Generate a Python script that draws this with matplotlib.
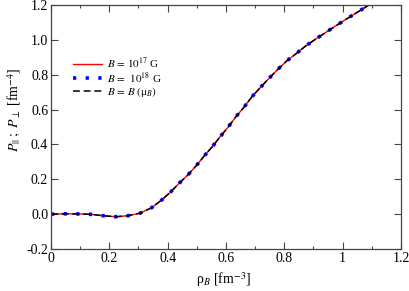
import matplotlib
matplotlib.use("Agg")
import matplotlib.pyplot as plt
from matplotlib.ticker import MultipleLocator, FixedLocator

plt.rcParams['font.family'] = ['Liberation Serif', 'DejaVu Serif']
plt.rcParams['mathtext.fontset'] = 'stix'

# density rho_B [fm^-3] and pressure [fm^-4] (the three curves overlap)
rho = [0, 0.05, 0.1, 0.136, 0.179, 0.222, 0.264, 0.306, 0.345, 0.38, 0.41,
       0.44, 0.471, 0.50, 0.526, 0.553, 0.579, 0.608, 0.634, 0.662, 0.688,
       0.717, 0.745, 0.779, 0.808, 0.842, 0.874, 0.908, 0.945, 0.979, 1.016,
       1.053, 1.09]
p_b17 = [0, 0.002, 0.001, -0.001, -0.009, -0.015, -0.009, 0.006, 0.037,
         0.082, 0.127, 0.178, 0.228, 0.282, 0.335, 0.387, 0.442, 0.501,
         0.559, 0.614, 0.672, 0.725, 0.775, 0.833, 0.879, 0.923, 0.966,
         1.005, 1.046, 1.083, 1.123, 1.161, 1.2]
p_b18 = list(p_b17)
p_bmu = list(p_b17)

xticks = [0, 0.2, 0.4, 0.6, 0.8, 1.0, 1.2]
xticklabels = ["0", "0.2", "0.4", "0.6", "0.8", "1", "1.2"]
yticks = [-0.2, 0.0, 0.2, 0.4, 0.6, 0.8, 1.0, 1.2]
yticklabels = ["-0.2", "0.0", "0.2", "0.4", "0.6", "0.8", "1.0", "1.2"]

fig = plt.figure(figsize=(4.09, 2.91), dpi=100)
ax = fig.add_axes([0.1247, 0.1443, 0.8557, 0.8385])

ax.plot(rho, p_b17, color='red', lw=1.0, label=r'$B\,=\,10^{17}$ G')
ax.plot(rho, p_b18, color='blue', lw=2.6, linestyle=(0, (0.9, 2.6)),
        dash_capstyle='butt', label=r'$B\,=\;\,10^{18}$ G')
ax.plot(rho, p_bmu, color='black', lw=1.1, linestyle=(0, (4.5, 2.5)),
        label=r'$B\,=\,B\;($μ$_B)$')

ax.set_xlim(0, 1.2)
ax.set_ylim(-0.2, 1.2)
ax.xaxis.set_major_locator(FixedLocator(xticks))
ax.set_xticklabels(xticklabels)
ax.xaxis.set_minor_locator(MultipleLocator(0.1))
ax.yaxis.set_major_locator(FixedLocator(yticks))
ax.set_yticklabels(yticklabels)

ax.tick_params(which='both', direction='in', top=True, right=True,
               labelsize=10, pad=2, width=0.8, color='#444444')
ax.tick_params(which='major', length=5)
ax.tick_params(which='minor', length=2.5)
for s in ax.spines.values():
    s.set_color('#444444')
    s.set_linewidth(0.9)

ax.set_xlabel('ρ$_B$ [fm$^{-3}$]', fontsize=10)
ax.set_ylabel(r'$P_{||}\;;\;P_{\perp}$ [fm$^{-4}$]', fontsize=10)
ax.xaxis.set_label_coords(0.494, -0.085)
ax.yaxis.set_label_coords(-0.08, 0.57)

ax.legend(loc='upper left', bbox_to_anchor=(0.05, 0.81), frameon=False,
          fontsize=8, handlelength=2.6, handletextpad=0.5, labelspacing=0.0,
          borderaxespad=0)

fig.savefig('out.png', dpi=100)
